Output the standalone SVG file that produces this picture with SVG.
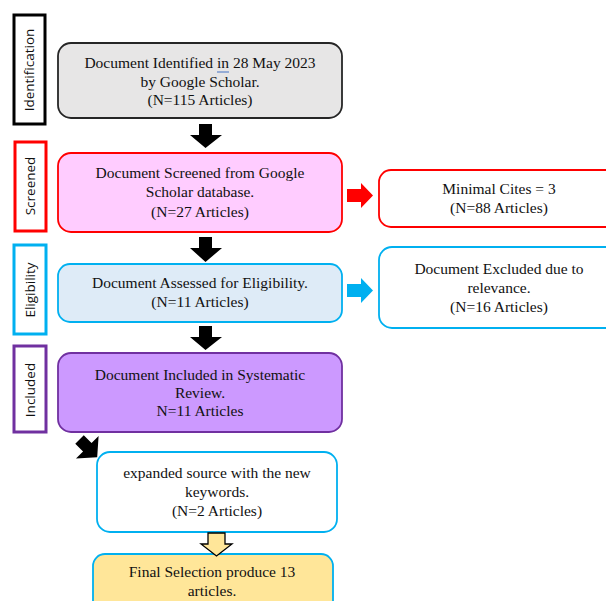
<svg xmlns="http://www.w3.org/2000/svg" width="606" height="601" viewBox="0 0 606 601">
<style>
.t{font-family:"Liberation Serif","Times New Roman",serif;font-size:15.5px;fill:#111;text-anchor:middle}
.lab{font-family:"Open Sans","Liberation Sans",sans-serif;font-size:13.5px;fill:#111;text-anchor:middle}
.lbox{fill:#fff;stroke-width:3}
.node{stroke-width:1.8}
</style>
<rect width="606" height="601" fill="#fff"/>
<g id="stage-identification">
<rect class="lbox" x="14" y="15" width="31" height="109" stroke="#000"/>
<text class="lab" transform="translate(34,70) rotate(-90)">Identification</text>
</g>
<g id="stage-screened">
<rect class="lbox" x="15" y="142" width="31" height="89" stroke="#ff0000"/>
<text class="lab" transform="translate(35,186) rotate(-90)">Screened</text>
</g>
<g id="stage-eligibility">
<rect class="lbox" x="14" y="245" width="32" height="89" stroke="#00b0f0"/>
<text class="lab" transform="translate(35,290) rotate(-90)">Eligibility</text>
</g>
<g id="stage-included">
<rect class="lbox" x="14" y="346" width="32" height="86" stroke="#7030a0"/>
<text class="lab" transform="translate(35,390) rotate(-90)">Included</text>
</g>
<g id="n-identified">
<rect class="node" x="58" y="43" width="284" height="75" rx="13" fill="#e7e6e6" stroke="#262626"/>
<text class="t" x="200" y="68">Document Identified in 28 May 2023</text>
<line x1="217" y1="72" x2="229" y2="72" stroke="#4472c4" stroke-width="1"/>
<text class="t" x="200" y="87">by Google Scholar.</text>
<text class="t" x="200" y="105">(N=115 Articles)</text>
</g>
<g id="n-screened">
<rect class="node" x="58" y="153" width="284" height="79" rx="13" fill="#ffccff" stroke="#ff0000"/>
<text class="t" x="200" y="178">Document Screened from Google</text>
<text class="t" x="200" y="197">Scholar database.</text>
<text class="t" x="200" y="217">(N=27 Articles)</text>
</g>
<g id="n-assessed">
<rect class="node" x="58" y="264" width="284" height="58" rx="12" fill="#deebf7" stroke="#00b0f0"/>
<text class="t" x="200" y="288">Document Assessed for Eligibility.</text>
<text class="t" x="200" y="307">(N=11 Articles)</text>
</g>
<g id="n-included">
<rect class="node" x="58" y="353" width="284" height="79" rx="13" fill="#cc99ff" stroke="#7030a0"/>
<text class="t" x="200" y="380">Document Included in Systematic</text>
<text class="t" x="200" y="398">Review.</text>
<text class="t" x="200" y="416">N=11 Articles</text>
</g>
<g id="n-expanded">
<rect class="node" x="97" y="452" width="240" height="80" rx="13" fill="#fff" stroke="#00b0f0"/>
<text class="t" x="217" y="478">expanded source with the new</text>
<text class="t" x="217" y="497">keywords.</text>
<text class="t" x="217" y="516">(N=2 Articles)</text>
</g>
<g id="n-final">
<rect class="node" x="93" y="554" width="240" height="60" rx="12" fill="#ffe699" stroke="#00b0f0"/>
<text class="t" x="212" y="577">Final Selection produce 13</text>
<text class="t" x="212" y="596">articles.</text>
</g>
<g id="n-cites">
<rect class="node" x="379" y="170" width="240" height="57" rx="12" fill="#fff" stroke="#ff0000"/>
<text class="t" x="499" y="194">Minimal Cites = 3</text>
<text class="t" x="499" y="213">(N=88 Articles)</text>
</g>
<g id="n-excluded">
<rect class="node" x="379" y="247" width="240" height="81" rx="13" fill="#fff" stroke="#00b0f0"/>
<text class="t" x="499" y="274">Document Excluded due to</text>
<text class="t" x="499" y="293">relevance.</text>
<text class="t" x="499" y="312">(N=16 Articles)</text>
</g>
<g id="connectors">
<polygon points="199,124 212,124 212,135 222,135 205.5,148 190,135 199,135" fill="#000"/>
<polygon points="199,237 212,237 212,248 222,248 205.5,262 190,248 199,248" fill="#000"/>
<polygon points="199,326 212,326 212,337 222,337 205.5,350 190,337 199,337" fill="#000"/>
<polygon points="-6,-12 6,-12 6,-1 16,-1 0,13 -16,-1 -6,-1" fill="#000" transform="translate(88,448) rotate(-45)"/>
<polygon points="208,533 225,533 225,544 232,544 216.5,556 201,544 208,544" fill="#ffe699" stroke="#000" stroke-width="1.3"/>
<polygon points="347,189 361,189 361,183 373,195.5 361,208 361,202 347,202" fill="#ff0000"/>
<polygon points="347,284 361,284 361,278 373,290.5 361,303 361,297 347,297" fill="#00b0f0"/>
</g>
</svg>
